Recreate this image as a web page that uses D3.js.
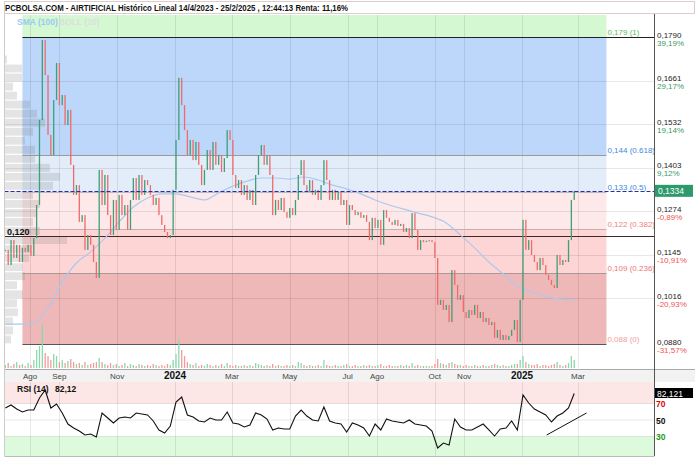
<!DOCTYPE html>
<html><head><meta charset="utf-8">
<script src="https://cdn.jsdelivr.net/npm/d3@7"></script>
<style>body{margin:0;background:#fff}svg{display:block;font-family:"Liberation Sans",Arial,sans-serif}</style>
</head><body><svg id="c" width="695" height="461"></svg>
<script>
// ---------------- DATA ----------------
const titleText = "PCBOLSA.COM - AIRTIFICIAL Histórico Lineal 14/4/2023 - 25/2/2025 , 12:44:13 Renta: 11,16%";
const startDate = "2023-07-06";
const stepDays = 3;
const closes = [
0.1159,0.1114,0.1188,0.1135,0.1174,0.1123,0.1165,0.1153,0.1174,0.1141,
0.1194,0.1292,0.1544,0.1781,0.1677,0.1500,0.1440,0.1603,0.1713,0.1588,
0.1618,0.1529,0.1574,0.1411,0.1322,0.1351,0.1242,0.1262,0.1159,0.1203,
0.1174,0.1123,0.1076,0.1396,0.1292,0.1381,0.1262,0.1203,0.1307,0.1218,
0.1322,0.1262,0.1292,0.1218,0.1307,0.1372,0.1307,0.1381,0.1322,0.1366,
0.1351,0.1322,0.1292,0.1313,0.1262,0.1233,0.1212,0.1194,0.1203,0.1337,
0.1485,0.1669,0.1588,0.1514,0.1440,0.1485,0.1425,0.1479,0.1411,0.1351,
0.1396,0.1455,0.1396,0.1479,0.1411,0.1440,0.1390,0.1431,0.1514,0.1485,
0.1381,0.1342,0.1366,0.1322,0.1351,0.1307,0.1337,0.1292,0.1381,0.1440,
0.1470,0.1411,0.1440,0.1381,0.1262,0.1307,0.1277,0.1313,0.1271,0.1254,
0.1283,0.1262,0.1307,0.1381,0.1425,0.1351,0.1331,0.1366,0.1322,0.1337,
0.1307,0.1351,0.1425,0.1366,0.1307,0.1337,0.1307,0.1331,0.1292,0.1307,
0.1233,0.1292,0.1277,0.1262,0.1271,0.1254,0.1262,0.1242,0.1188,0.1254,
0.1224,0.1248,0.1174,0.1277,0.1254,0.1242,0.1233,0.1248,0.1230,0.1236,
0.1212,0.1224,0.1194,0.1268,0.1218,0.1159,0.1188,0.1182,0.1186,0.1188,
0.1182,0.1135,0.0996,0.1011,0.0981,0.0996,0.0945,0.1099,0.1055,0.1011,
0.1025,0.0975,0.0957,0.0981,0.0966,0.0996,0.0957,0.0975,0.0945,0.0957,
0.0936,0.0945,0.0898,0.0922,0.0892,0.0907,0.0892,0.0904,0.0922,0.0951,
0.0886,0.1011,0.1248,0.1159,0.1188,0.1144,0.1123,0.1099,0.1135,0.1114,
0.1085,0.1070,0.1055,0.1046,0.1144,0.1114,0.1129,0.1123,0.1188,0.1307,0.1334];
const volumes = [
3,5,2,4,6,3,4,2,5,3, 8,18,22,44,15,12,8,14,12,6, 8,5,7,9,6,4,5,3,6,3, 4,5,6,10,6,4,3,5,3,4,
2,3,5,2,4,3,2,4,3,2, 3,2,4,3,2,3,2,4,3,8, 14,29,18,12,6,4,3,5,2,3, 2,4,3,2,3,2,4,2,5,3,
2,3,2,2,3,2,3,2,5,4, 3,2,3,2,4,2,3,2,2,3, 2,3,2,6,5,3,2,3,2,2, 3,2,8,3,2,2,3,2,2,3,
4,2,2,3,2,2,3,2,3,2, 2,3,4,2,2,3,2,2,2,3, 2,3,2,5,2,3,2,2,2,2, 2,4,9,5,4,3,5,6,4,3,
3,2,3,2,2,3,2,2,3,2, 2,3,4,3,2,3,2,2,3,4, 4,8,12,6,4,3,3,4,2,3, 3,2,3,4,6,3,2,3,5,12,8];
const smaStep = 5; // one SMA(100) value every 5 candles
const smaValues = [0.0939,0.0939,0.0942,0.0987,0.1064,0.1120,0.1153,0.1194,0.1242,0.1286,0.1313,
0.1325,0.1325,0.1316,0.1307,0.1328,0.1348,0.1363,0.1372,0.1372,0.1369,0.1375,0.1366,0.1351,0.1340,
0.1325,0.1307,0.1292,0.1280,0.1268,0.1257,0.1239,0.1203,0.1165,0.1123,0.1088,0.1052,0.1034,0.1022,0.1013,0.1010];
const rsiStep = 2; // one RSI(14) value every 2 candles
const rsiValues = [
64.5,68.2,63.3,59.7,62.1,62.1,76.7,86.4,64.5,69.4,
58.5,45.1,40.3,36.7,31.8,33.0,29.4,58.5,52.4,46.4,
52.4,53.6,52.4,58.5,57.3,56.1,48.8,37.9,34.2,42.7,
71.8,77.9,56.1,53.6,48.8,47.6,52.4,50.0,50.0,59.7,
46.4,45.1,41.5,43.9,58.5,56.1,51.2,37.9,40.3,39.1,
39.1,54.8,62.1,54.8,50.0,48.8,65.8,48.8,46.4,45.1,
35.5,46.4,43.9,40.3,30.6,45.1,37.9,51.2,48.8,47.6,
46.4,50.0,45.1,43.9,42.7,36.7,16.1,22.1,19.7,51.2,
41.5,37.9,37.9,41.5,45.1,37.9,30.6,39.1,40.3,48.8,
37.9,80.3,70.6,63.3,59.7,56.1,47.6,54.8,58.5,64.5,82.12];
const rsiTrend = [{date:"2025-01-27", v:31.8},{date:"2025-03-10", v:58.5}];
const fibLevels = [0.179,0.144,0.133,0.122,0.109,0.088];
const fibLabels = ["0,179 (1)","0,144 (0.618)","0,133 (0.5)","0,122 (0.382)","0,109 (0.236)","0,088 (0)"];
const fibStart = "2023-07-24", fibEnd = "2025-03-31";
const priceTicks = [0.1790,0.1661,0.1532,0.1403,0.1274,0.1145,0.1016,0.0880];
const priceTickLabels = ["0,1790","0,1661","0,1532","0,1403","0,1274","0,1145","0,1016","0,0880"];
const pctLabels = ["39,19%","29,17%","19,14%","9,12%","-0,89%","-10,91%","-20,93%","-31,57%"];
const monthTicks = ["2023-08-01","2023-09-01","2023-11-01","2024-01-01","2024-03-01","2024-05-01","2024-07-01","2024-08-01","2024-10-01","2024-11-01","2025-01-01","2025-03-01"];
const monthLabels = ["Ago","Sep","Nov","2024","Mar","May","Jul","Ago","Oct","Nov","2025","Mar"];
const profileVolume = [0,0,2,17,17,8,12,25,32,40,28,20,30,30,45,55,48,28,35,32,28,35,62,26,24,18,20,12,18,12,13,8,8,6];
const lastPrice = 0.1334, lastPriceLabel = "0,1334";
const supportLevel = 0.120, supportLabel = "0,120";
const rsiLast = "82,121", rsiHeader = "82,12";
const rsiLevels = [70,50,30];

// ---------------- SCALES ----------------
const parse = d3.timeParse("%Y-%m-%d");
const x = d3.scaleTime().domain([parse("2023-08-01"), parse("2025-03-01")]).range([30, 578]);
const y = d3.scaleLinear().domain([0.088, 0.179]).range([344, 37]);
const yR = d3.scaleLinear().domain([30, 70]).range([436.5, 403.5]);
const vol = d3.scaleLinear().domain([0, d3.max(volumes)]).range([0, 44]);
const start = parse(startDate);
const dates = closes.map((_, i) => d3.timeDay.offset(start, i * stepDays));

const L = 4.5, R = 654.5, TOP = 15, VB = 368, XB0 = 369, XB1 = 382, RB = 456;
const svg = d3.select("#c");
svg.append("rect").attr("width",695).attr("height",461).attr("fill","#fff");

// title
svg.append("rect").attr("x",4.5).attr("y",1.5).attr("width",690).attr("height",12).attr("fill","#fff").attr("stroke","#dccccc");
svg.append("text").attr("x",5).attr("y",11).attr("font-size",9).attr("font-weight","bold").attr("fill","#111")
  .attr("textLength",343).attr("lengthAdjust","spacingAndGlyphs").text(titleText);

// fib zones
const fx0 = x(parse(fibStart)), fx1 = x(parse(fibEnd));
svg.append("rect").attr("x",fx0).attr("y",TOP).attr("width",fx1-fx0).attr("height",y(fibLevels[0])-TOP).attr("fill","#d4f8d2");
const zoneColors = ["#bdd7fa","#e3edf9","#fde9e9","#fdd5d5","#efb8b8"];
for (let k=0;k<fibLevels.length-1;k++){
  svg.append("rect").attr("x",fx0).attr("y",y(fibLevels[k])).attr("width",fx1-fx0)
    .attr("height",y(fibLevels[k+1])-y(fibLevels[k])).attr("fill",zoneColors[k]);
}

// grid
const grid = svg.append("g").attr("stroke","rgba(0,0,0,0.09)").attr("stroke-width",1);
priceTicks.slice(1,-1).forEach(t => grid.append("line").attr("x1",L).attr("x2",R).attr("y1",Math.round(y(t))+0.5).attr("y2",Math.round(y(t))+0.5));
monthTicks.forEach(m => {
  const xx = Math.round(x(parse(m)))+0.5;
  grid.append("line").attr("x1",xx).attr("x2",xx).attr("y1",TOP).attr("y2",VB);
});

// volume profile
const binH = (y(0.088)-y(0.179))/profileVolume.length;
const pw = d3.scaleLinear().domain([0, d3.max(profileVolume)]).range([0, 62]);
svg.append("g").selectAll("rect").data(profileVolume).join("rect")
  .attr("x",5).attr("y",(d,i)=>y(0.179)+i*binH+0.5).attr("height",binH-1.2)
  .attr("width",d=>pw(d)).attr("fill","rgba(110,110,110,0.19)");

// fib lines
const fibLineColors = ["#222","#9a9a9a","#b8b8c8","#c0b0b0","#a89898","#555"];
fibLevels.forEach((lv,k)=>{
  const yy = Math.round(y(lv))+0.5;
  svg.append("line").attr("x1",fx0).attr("x2",k===0?R:fx1).attr("y1",yy).attr("y2",yy).attr("stroke",fibLineColors[k]);
});
// support line
const ys = Math.round(y(supportLevel))+0.5;
svg.append("line").attr("x1",L).attr("x2",R).attr("y1",ys).attr("y2",ys).attr("stroke","#3a2a2a");
svg.append("text").attr("x",7).attr("y",ys-2).attr("font-size",9).attr("font-weight","bold").attr("fill","#111").text(supportLabel);

// volume bars
const up = i => i===0 ? true : closes[i] >= closes[i-1];
svg.append("g").selectAll("rect").data(volumes).join("rect")
  .attr("x",(d,i)=>x(dates[i])-0.65).attr("width",1.3)
  .attr("y",d=>VB-vol(d)).attr("height",d=>vol(d))
  .attr("fill",(d,i)=>up(i)?"#8ad9ad":"#f49a9a");

// SMA
const smaLine = d3.line().x((d,i)=>x(dates[i*smaStep])).y(d=>y(d)).curve(d3.curveMonotoneX);
svg.append("path").attr("d",smaLine(smaValues)).attr("fill","none").attr("stroke","#abc9ef").attr("stroke-width",1.2);

// candles
svg.append("g").selectAll("rect").data(closes).join("rect")
  .attr("x",(d,i)=>x(dates[i])-0.65).attr("width",1.3)
  .attr("y",(d,i)=>y(Math.max(d, i?closes[i-1]:d)))
  .attr("height",(d,i)=>Math.max(1.2, Math.abs(y(d)-y(i?closes[i-1]:d))))
  .attr("fill",(d,i)=>up(i)?"#3e9f78":"#f06a6a");

// current price dashed line
const yl = Math.round(y(lastPrice))+0.5;
svg.append("line").attr("x1",L).attr("x2",R).attr("y1",yl).attr("y2",yl).attr("stroke","#2b2ba8").attr("stroke-dasharray","4,2");

// fib labels
const fibTextColors = ["#5cbf52","#3f88de","#3f88de","#ee8282","#ec7676","#f29c9c"];
fibLevels.forEach((lv,k)=>{
  svg.append("text").attr("x",fx1+1).attr("y",y(lv)-2.5).attr("font-size",8).attr("fill",fibTextColors[k]).text(fibLabels[k]);
});

// legend
svg.append("text").attr("x",17).attr("y",25).attr("font-size",8.5).attr("font-weight","bold").attr("fill","#9cc9f6").text("SMA (100)");
svg.append("text").attr("x",59).attr("y",25).attr("font-size",8.5).attr("font-weight","bold").attr("fill","#dedede").text("BOLL (20)");

// x-axis band
svg.append("rect").attr("x",L).attr("y",XB0).attr("width",695-L).attr("height",XB1-XB0).attr("fill","#f2f2f2");
svg.append("line").attr("x1",L).attr("x2",695).attr("y1",XB0+0.5).attr("y2",XB0+0.5).attr("stroke","#aaa");
monthTicks.forEach((m,k)=>{
  const bold = /^\d{4}$/.test(monthLabels[k]);
  svg.append("text").attr("x",x(parse(m))).attr("y",379).attr("text-anchor","middle")
    .attr("font-size",bold?10:8).attr("font-weight",bold?"bold":"normal").attr("fill",bold?"#111":"#444").text(monthLabels[k]);
});

// right axis labels
priceTicks.forEach((t,k)=>{
  const yy = y(t);
  svg.append("text").attr("x",657).attr("y",yy+0.5).attr("font-size",8).attr("fill","#222").text(priceTickLabels[k]);
  svg.append("text").attr("x",657).attr("y",yy+8.5).attr("font-size",8).attr("fill",pctLabels[k].startsWith("-")?"#ee5555":"#3a9a66").text(pctLabels[k]);
});
svg.append("rect").attr("x",655).attr("y",y(lastPrice)-6).attr("width",38).attr("height",12).attr("fill","#2c9a6c");
svg.append("text").attr("x",658).attr("y",y(lastPrice)+3).attr("font-size",8.5).attr("fill","#fff").text(lastPriceLabel);

// RSI panel
svg.append("rect").attr("x",L).attr("y",XB1).attr("width",R-L).attr("height",yR(70)-XB1).attr("fill","#fde6e6");
svg.append("rect").attr("x",L).attr("y",yR(30)).attr("width",R-L).attr("height",RB-yR(30)).attr("fill","#ddfadc");
const rg = svg.append("g").attr("stroke","rgba(0,0,0,0.09)");
rsiLevels.forEach(v=>rg.append("line").attr("x1",L).attr("x2",R).attr("y1",yR(v)).attr("y2",yR(v)));
monthTicks.forEach(m => {
  const xx = Math.round(x(parse(m)))+0.5;
  rg.append("line").attr("x1",xx).attr("x2",xx).attr("y1",XB1).attr("y2",RB);
});
const rsiLine = d3.line().x((d,i)=>x(dates[i*rsiStep])).y(d=>yR(d));
svg.append("path").attr("d",rsiLine(rsiValues)).attr("fill","none").attr("stroke","#111").attr("stroke-width",1.1);
svg.append("line").attr("x1",x(parse(rsiTrend[0].date))).attr("y1",yR(rsiTrend[0].v))
  .attr("x2",x(parse(rsiTrend[1].date))).attr("y2",yR(rsiTrend[1].v)).attr("stroke","#111").attr("stroke-width",1);
svg.append("text").attr("x",17).attr("y",392).attr("font-size",8.5).attr("font-weight","bold").attr("fill","#111").text("RSI (14)");
svg.append("text").attr("x",55).attr("y",392).attr("font-size",8.5).attr("font-weight","bold").attr("fill","#111").text(rsiHeader);
svg.append("rect").attr("x",655).attr("y",388).attr("width",38).attr("height",10).attr("fill","#000");
svg.append("text").attr("x",657).attr("y",396.5).attr("font-size",8.5).attr("fill","#fff").text(rsiLast);
const rsiColors = {70:"#e00000",50:"#111",30:"#1a9a1a"};
rsiLevels.forEach(v=>svg.append("text").attr("x",656).attr("y",yR(v)+3.5).attr("font-size",8.5).attr("font-weight","bold").attr("fill",rsiColors[v]).text(v));
svg.append("line").attr("x1",L).attr("x2",R).attr("y1",RB+0.5).attr("y2",RB+0.5).attr("stroke","#bbb");

// borders
svg.append("line").attr("x1",L).attr("x2",L).attr("y1",14).attr("y2",RB).attr("stroke","#ccc");
svg.append("line").attr("x1",R).attr("x2",R).attr("y1",14).attr("y2",RB).attr("stroke","#555");
</script></body></html>
